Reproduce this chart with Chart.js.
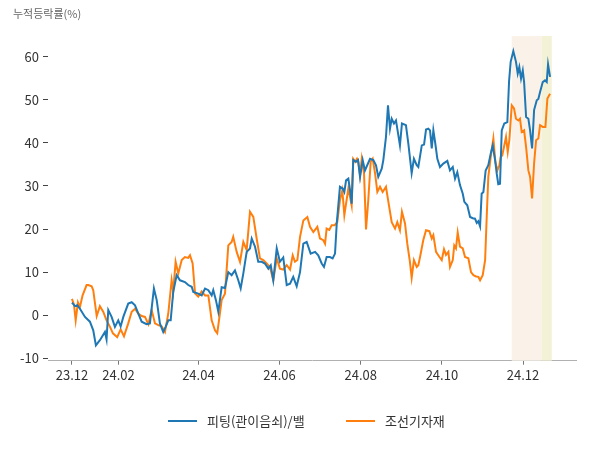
<!DOCTYPE html>
<html>
<head>
<meta charset="utf-8">
<script src="https://cdn.jsdelivr.net/npm/chart.js@4"></script>
<style>
  html, body { margin: 0; padding: 0; background: #fff; }
  #wrap { width: 600px; height: 450px; }
</style>
</head>
<body>
<div id="wrap"><canvas id="chart" width="600" height="450"></canvas></div>
<script>
// x = days since 2023-12-28 (first trading day shown)
const xTickDays = [0, 35, 95, 156, 217, 278, 339];
const xTickLabels = ["23.12", "24.02", "24.04", "24.06", "24.08", "24.10", "24.12"];
const yTicks = [-10, 0, 10, 20, 30, 40, 50, 60];

const seriesNames = ["피팅(관이음쇠)/밸", "조선기자재"];

const blueDays = [0, 2.3, 4, 6, 9.8, 13.5, 16, 18, 21, 24.8, 26, 27.3, 29.8, 32.3, 34.8, 36.6, 38.6, 42.3, 44.9, 47.4,
  49.8, 52.4, 56.1, 58.6, 61.6, 63.7, 66.1, 68.6, 70.4, 72.4, 74.2, 76.1, 78.7, 81.2, 84.9, 87.4, 90, 91.2, 94.9, 97.5,
  100, 102.5, 105, 106.2, 108.2, 110, 112.5, 115, 117.5, 120, 122.5, 125, 126.8, 128.8, 131.3, 133.8, 135.1, 137.6, 140, 142.6,
  145, 147.6, 149.4, 151.3, 153.9, 156.3, 158.8, 161.4, 163.9, 166.3, 168.9, 171.4, 173.9, 176.4, 179.4, 182.7, 185.1, 187.7, 189.4, 191.4,
  193.9, 195.9, 197.7, 199, 201.4, 203.5, 204.7, 206, 207.7, 209, 210.2, 211.4, 213.5, 215, 216.5, 218.5, 220.2, 224, 226.5, 228.5,
  230.2, 232.8, 234, 236, 237.5, 239, 240.3, 242, 243.5, 244.5, 246.5, 248, 251, 252.8, 255.3, 257, 259.1, 260.3, 262.9, 264.6,
  266.1, 267.8, 269.1, 270.4, 271.6, 272.9, 274.6, 276.6, 279.1, 282.1, 284.1, 286.2, 287.9, 289.6, 291.6, 293.7, 294.9, 297.1, 299.2, 301.2,
  302.9, 304.2, 305.4, 306.7, 307.9, 309.2, 310.9, 312.9, 314.7, 316.2, 318, 319.2, 320.4, 321.7, 323, 324.9, 327.2, 328.5, 329.7, 331.7,
  333.7, 335, 336.2, 337.5, 338.8, 339.8, 341.3, 343, 344.3, 345.8, 347.3, 349.3, 350.5, 351.8, 353.8, 355.5, 356.8, 357.8, 359.3];
const blueVals = [2.9, 2.1, 2.3, 1.5, -0.4, -1.5, -3.5, -7, -5.8, -3.9, -5.6, 1.2, -0.4, -2.7, -1.2, -2.6, -0.4, 2.7, 3.0, 2.3,
  0.4, -1.5, -2.1, -1.9, 6.2, 3.5, -1.9, -3.9, -2.7, -1.2, -1.2, 5.4, 9.3, 8.1, 7.7, 7.0, 6.6, 5.4, 5.0, 4.6,
  6.2, 5.8, 4.6, 5.8, 3.5, 0.8, 6.5, 6.3, 10, 9.3, 10.4, 8.1, 6.2, 9.7, 14.7, 15.5, 17.8, 15.9, 12.4, 12.4,
  12.0, 10.8, 11.6, 8.1, 15.5, 12.4, 13.4, 7.0, 7.3, 8.9, 6.7, 10, 16.6, 17.0, 14.3, 14.7, 13.9, 12.0, 11.2, 13.5,
  13.5, 13.2, 14.3, 21.3, 29.8, 29.4, 28.6, 31.3, 31.7, 29, 25.9, 36, 35.6, 36, 32.1, 36, 33.6, 36.3, 36, 34.8,
  32.1, 34, 36, 41.4, 48.7, 43.3, 45.6, 44.5, 45.2, 43.3, 39.4, 44.5, 44.1, 39.8, 33.0, 36.3, 34.8, 34.4, 39.4, 39.6,
  43.1, 43.3, 42.9, 38.7, 42.9, 40.2, 36.3, 34.4, 35.2, 35.8, 33.6, 34.4, 31.7, 33.2, 30.2, 28.2, 26.3, 25.5, 22.8, 22.5,
  22.4, 21.4, 21.8, 20.6, 28.2, 28.6, 33.6, 34.8, 37.5, 39.4, 36, 32.9, 30.4, 30.5, 42.9, 44.5, 44.8, 54.3, 58.8, 61.3,
  58.8, 56.1, 57.6, 54.9, 56.8, 54.1, 46, 45.6, 42.9, 38.7, 47.6, 49.9, 50.2, 51.8, 54.1, 54.5, 54.1, 58.2, 55.3];

const orangeDays = [0, 1.5, 2.8, 4.5, 6, 8, 11, 12.3, 14.8, 16, 18.6, 21, 23.5, 26, 28.6, 30.8, 34, 36.6, 39.1, 42.3,
  44.9, 47.4, 49.8, 52.4, 54.9, 57.4, 59.9, 62.4, 64.9, 67.4, 69.9, 72.4, 74.9, 76.1, 77.9, 79.9, 82.5, 84.9, 87.4, 88.7,
  90.7, 92.5, 94.9, 97.5, 100, 102.5, 105, 107.5, 109.2, 111.2, 112.5, 115, 117.5, 120, 121.2, 123.8, 126.3, 128.8, 131.3, 133.8,
  136.3, 138.8, 141.3, 143.8, 146.3, 148.8, 151.3, 153.9, 156.3, 158.8, 161.4, 163.9, 165.9, 167.6, 169.4, 171.4, 173.9, 176.9, 178.9, 181.4,
  184.4, 186.4, 188.9, 190.2, 191.4, 193.4, 195.2, 197.4, 199.4, 201.4, 203.2, 204.7, 206, 207.7, 209, 210.2, 211.4, 212.9, 214.2, 215.2,
  216.5, 217.8, 219.5, 221, 222.7, 224.5, 226, 227.8, 229.5, 231.5, 233.5, 236, 237.8, 240.3, 242.8, 244.5, 246.5, 248, 250.3, 252,
  254, 255.3, 257, 259.1, 260.3, 261.6, 264, 266.1, 268.6, 270.4, 271.6, 273.6, 276.2, 277.9, 279.6, 281.1, 282.9, 284.1, 286.2, 287.3,
  288.6, 289.9, 291.6, 293.7, 295.4, 297.9, 299.9, 301.7, 303.7, 305.4, 306.7, 308.7, 310.5, 311.7, 312.9, 314.7, 316.7, 318.2, 319.7, 321.2,
  322.2, 323.4, 324.9, 326.2, 327.5, 328.7, 330.5, 332.2, 333.7, 335.5, 336.7, 338, 339.8, 341.3, 343, 344.3, 345.8, 347.3, 348.8, 350.5,
  351.8, 353.8, 355.8, 357.3, 359.3];
const orangeVals = [3.8, 2.5, -1.2, 3.0, 1.9, 4.6, 7, 7.0, 6.7, 5.8, -0.2, 2.1, 0.8, -1.2, -2.7, -4.2, -5.1, -3.3, -4.9, -1.9,
  0.8, 1.5, 0.4, -0.2, -0.4, -2.1, 1.2, -1.9, -2.3, -2.6, -3.9, 0.4, 8.1, 5.5, 12.4, 9.7, 12.8, 13.5, 13.3, 13.9,
  12, 5.1, 4.3, 5.5, 4.6, 4.6, -1.2, -3.5, -4.2, 0.4, 3.5, 5, 16.2, 17, 18.2, 14.7, 12.4, 17, 15.1, 24,
  22.8, 17.8, 13.2, 12.8, 12, 11.2, 8.1, 13.2, 10.8, 10.6, 11.6, 10.6, 13.9, 12.4, 12.8, 18.2, 22, 22.8, 20.5, 19.3,
  20.5, 17.8, 17.4, 16.6, 20.1, 19.8, 20.9, 20.9, 21.6, 26.7, 29, 23.2, 25.9, 29.4, 27.4, 25.5, 36.3, 35.6, 36.3, 35.6,
  32.5, 36.3, 32.9, 19.9, 26.7, 35.6, 36.3, 32.9, 28.6, 29.8, 28.6, 29.8, 26.3, 21.6, 20.1, 21.6, 19.7, 24, 21.3, 16.6,
  12.4, 8.7, 12.8, 11.2, 11.6, 13.5, 17.4, 19.7, 19.5, 17.8, 18.6, 14.7, 13.5, 12.8, 15.3, 14.0, 14.7, 11.2, 12.8, 16.2,
  15.5, 19.2, 15.9, 15.5, 13.5, 13.2, 10, 9.3, 9.0, 8.9, 8.1, 9.3, 12.8, 22.8, 32.1, 36.7, 41, 35.6, 33.6, 34.8,
  36.7, 37.1, 39.4, 41.4, 37.9, 40.6, 48.7, 48, 45.6, 45.2, 45.6, 42.5, 42.9, 39, 33.6, 32.1, 27.1, 35.2, 40.6, 41,
  44.1, 43.7, 43.7, 50.3, 51.4];

// shaded periods [start, end] in days
const bandOrange = [330.5, 353];
const bandYellow = [353, 360.6];

const BLUE = '#1f77b4';
const ORANGE = '#ff7f0e';
const FONT = '"Noto Sans CJK KR", "Noto Sans", sans-serif';

const toPoints = (xs, ys) => xs.map((x, i) => ({ x: x, y: ys[i] }));

const bandsPlugin = {
  id: 'bands',
  beforeDatasetsDraw(chart) {
    const { ctx, chartArea, scales } = chart;
    const paint = (band, color) => {
      const x0 = scales.x.getPixelForValue(band[0]);
      const x1 = scales.x.getPixelForValue(band[1]);
      ctx.fillStyle = color;
      ctx.fillRect(x0, chartArea.top, x1 - x0, chartArea.bottom - chartArea.top);
    };
    ctx.save();
    paint(bandOrange, '#faf2e9');
    paint(bandYellow, '#f3f1d6');
    ctx.restore();
  }
};

const extrasPlugin = {
  id: 'extras',
  afterDraw(chart) {
    const ctx = chart.ctx;
    ctx.save();
    // y axis title
    ctx.font = '11px ' + FONT;
    ctx.fillStyle = '#666';
    ctx.textAlign = 'left';
    ctx.textBaseline = 'middle';
    ctx.fillText('누적등락률(%)', 13, 14);

    // legend
    ctx.font = '13px ' + FONT;
    ctx.fillStyle = '#333';
    const items = [
      { x: 168, color: BLUE, text: seriesNames[0] },
      { x: 346, color: ORANGE, text: seriesNames[1] }
    ];
    items.forEach(it => {
      ctx.strokeStyle = it.color;
      ctx.lineWidth = 2;
      ctx.beginPath();
      ctx.moveTo(it.x, 421);
      ctx.lineTo(it.x + 29, 421);
      ctx.stroke();
      ctx.fillText(it.text, it.x + 39, 421);
    });
    ctx.restore();
  }
};

new Chart(document.getElementById('chart'), {
  type: 'line',
  data: {
    datasets: [
      {
        label: seriesNames[0],
        data: toPoints(blueDays, blueVals),
        borderColor: BLUE,
        backgroundColor: BLUE,
        borderWidth: 2,
        pointRadius: 0,
        tension: 0
      },
      {
        label: seriesNames[1],
        data: toPoints(orangeDays, orangeVals),
        borderColor: ORANGE,
        backgroundColor: ORANGE,
        borderWidth: 2,
        pointRadius: 0,
        tension: 0
      }
    ]
  },
  options: {
    responsive: false,
    animation: false,
    devicePixelRatio: 1,
    layout: { padding: { top: 36, right: 24, left: 0, bottom: 0 } },
    plugins: {
      legend: { display: false },
      tooltip: { enabled: false }
    },
    scales: {
      x: {
        type: 'linear',
        min: -18,
        max: 378.8,
        afterFit: s => { s.height = 89.3; },
        afterBuildTicks: s => { s.ticks = xTickDays.map(v => ({ value: v })); },
        grid: { drawOnChartArea: false, drawTicks: true, tickLength: 4, color: '#777' },
        border: { display: true, color: '#b0b0b0', width: 1 },
        ticks: {
          autoSkip: false,
          maxRotation: 0,
          padding: 3,
          color: '#333',
          font: { family: FONT, size: 13 },
          callback: (v, i) => xTickLabels[i]
        }
      },
      y: {
        min: -10.56,
        max: 64.8,
        afterFit: s => { s.width = 48; },
        afterBuildTicks: s => { s.ticks = yTicks.map(v => ({ value: v })); },
        grid: { drawOnChartArea: false, drawTicks: true, tickLength: 5, color: '#444' },
        border: { display: false },
        ticks: {
          padding: 4,
          color: '#333',
          font: { family: FONT, size: 13 }
        }
      }
    }
  },
  plugins: [bandsPlugin, extrasPlugin]
});
</script>
</body>
</html>
